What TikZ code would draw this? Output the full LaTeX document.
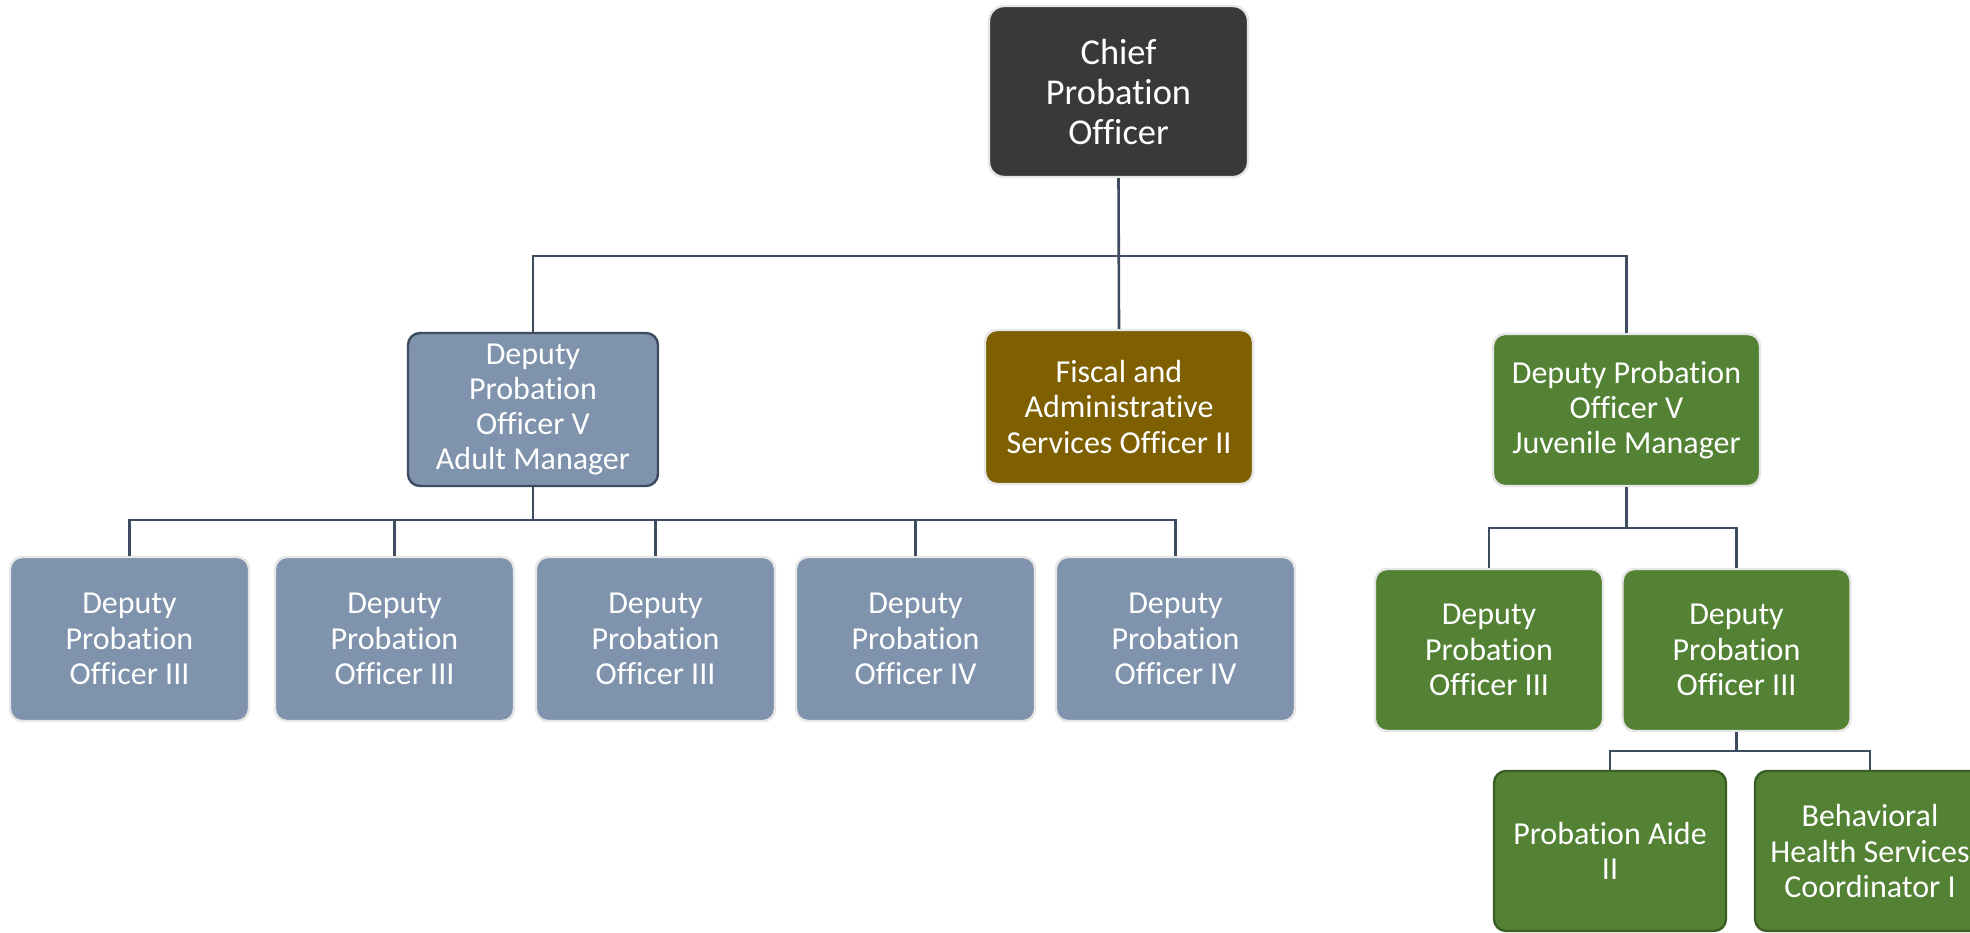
\documentclass[tikz,border=0pt]{standalone}
\usepackage{fontspec}
\setmainfont{Carlito}[Ligatures=NoCommon]
\definecolor{chieffill}{HTML}{3A3937}
\definecolor{bluefill}{HTML}{7F93AD}
\definecolor{fiscalfill}{HTML}{7F6000}
\definecolor{greenfill}{HTML}{548235}
\definecolor{lightborder}{HTML}{E6E6E6}
\definecolor{darkblueborder}{HTML}{3E4C60}
\definecolor{darkgreenborder}{HTML}{3B5E25}
\definecolor{linecol}{HTML}{3E4C60}
\tikzset{
  box/.style={rectangle, rounded corners=6pt, draw=lightborder, line width=1.2pt,
    text=white, align=center, inner sep=0pt,
    font=\fontsize{16}{17.6}\selectfont},
  chiefbox/.style={box, fill=chieffill, rounded corners=7.5pt,
    minimum width=129.5pt, minimum height=85.5pt,
    font=\fontsize{18.2}{20}\selectfont},
  adultbox/.style={box, fill=bluefill},
  fiscalbox/.style={box, fill=fiscalfill},
  juvbox/.style={box, fill=greenfill},
  conn/.style={draw=linecol, line width=1.3pt}
}
\begin{document}
\begin{tikzpicture}[x=0.5pt,y=-0.5pt]
\useasboundingbox (0,0) rectangle (1970,932);
\clip (0,0) rectangle (1970,932);
\fill[white] (0,0) rectangle (1970,932);

% coordinates of buses
\coordinate (bus1) at (1118.5,256);
\coordinate (bus2) at (533,520);
\coordinate (bus3) at (1626.5,528);
\coordinate (bus4) at (1736.5,751);

\node[chiefbox] (chief) at (1118.5,91.5) {Chief\\Probation\\Officer};
\node[adultbox, draw=darkblueborder, minimum width=125pt, minimum height=76.5pt] (adult) at (533,409.5) {Deputy\\Probation\\Officer V\\Adult Manager};
\node[fiscalbox, minimum width=134pt, minimum height=77pt] (fiscal) at (1119,407) {Fiscal and\\Administrative\\Services Officer II};
\node[juvbox, minimum width=133.5pt, minimum height=76pt] (juv) at (1626.5,410) {Deputy Probation\\Officer V\\Juvenile Manager};

\foreach \n/\x/\t in {a1/129.5/III, a2/394.5/III, a3/655.5/III, a4/915.5/IV, a5/1175.5/IV}{
  \node[adultbox, minimum width=119.5pt, minimum height=82pt] (\n) at (\x,639) {Deputy\\Probation\\Officer \t};
}
\node[juvbox, minimum width=114pt, minimum height=81pt] (j1) at (1489,650) {Deputy\\Probation\\Officer III};
\node[juvbox, minimum width=114pt, minimum height=81pt] (j2) at (1736.5,650) {Deputy\\Probation\\Officer III};
\node[juvbox, draw=darkgreenborder, minimum width=116pt, minimum height=80pt] (b1) at (1610,851) {Probation Aide\\II};
\node[juvbox, draw=darkgreenborder, minimum width=115pt, minimum height=80pt] (b2) at (1870,851) {Behavioral\\Health Services\\Coordinator I};

% top level
\draw[conn] (chief.south) -- (fiscal.north);
\draw[conn] (adult.north) -- (adult.north |- bus1) -- (juv.north |- bus1) -- (juv.north);

% adult level
\draw[conn] (adult.south) -- (bus2);
\draw[conn] (a1.north) -- (a1.north |- bus2) -- (a5.north |- bus2) -- (a5.north);
\foreach \n in {a2,a3,a4}{
  \draw[conn] (\n.north) -- (\n.north |- bus2);
}

% juvenile level
\draw[conn] (juv.south) -- (bus3);
\draw[conn] (j1.north) -- (j1.north |- bus3) -- (j2.north |- bus3) -- (j2.north);

% bottom level
\draw[conn] (j2.south) -- (bus4);
\draw[conn] (b1.north) -- (b1.north |- bus4) -- (b2.north |- bus4) -- (b2.north);
\end{tikzpicture}
\end{document}
